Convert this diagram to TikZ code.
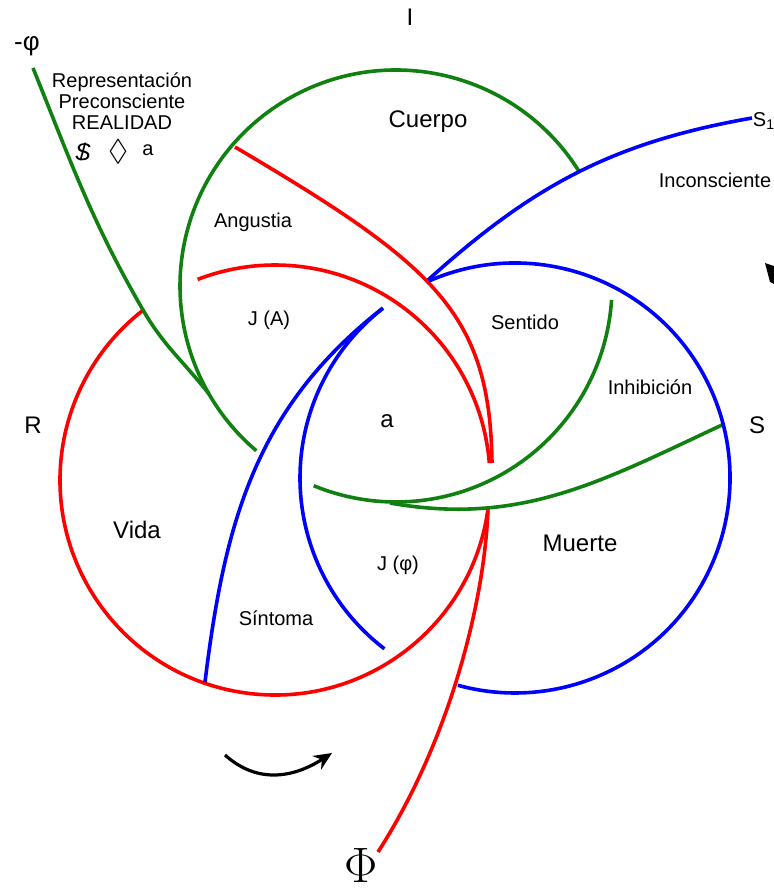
\documentclass[tikz,border=0pt]{standalone}
\usepackage{fontspec}
\setmainfont{Liberation Sans}
\usepackage{amssymb}
\usetikzlibrary{arrows.meta}
\definecolor{ringred}{RGB}{255,0,0}
\definecolor{ringgreen}{RGB}{16,128,16}
\definecolor{ringblue}{RGB}{0,0,255}
\newcommand{\barS}{\ooalign{\itshape S\cr\hidewidth/\hidewidth\cr}}

\begin{document}
\begin{tikzpicture}[x=0.5pt,y=0.5pt,
  ring/.style={line width=1.8pt},
  lab/.style={font=\fontsize{10}{10.5}\selectfont,inner sep=0pt},
  region/.style={font=\fontsize{12}{13}\selectfont,inner sep=0pt},
  letter/.style={font=\fontsize{12}{13}\selectfont,inner sep=0pt}]
 \useasboundingbox (0,0) rectangle (774,-894);
 \coordinate (rc) at (275,-480);
 \coordinate (gc) at (396,-286);
 \coordinate (bc) at (515,-478);
 \draw[ring,ringred] (rc) ++(-8.1:215) arc[start angle=-8.1,end angle=-232.2,radius=215];
 \draw[ring,ringred] (rc) ++(111.1:215) arc[start angle=111.1,end angle=4.5,radius=215];
 \draw[ring,ringred] (235,-147) .. controls (435,-265) and (490,-313) .. (492,-463);
 \draw[ring,ringred] (488,-508) .. controls (485,-600) and (450,-740) .. (378,-852);
 \draw[ring,ringgreen] (gc) ++(31.6:216) arc[start angle=31.6,end angle=229.7,radius=216];
 \draw[ring,ringgreen] (gc) ++(-3.7:216) arc[start angle=-3.7,end angle=-112.4,radius=216];
 \draw[ring,ringgreen] (33,-68) to[out=-68,in=120] (143,-310) to[out=-60,in=128] (209,-394);
 \draw[ring,ringgreen] (722,-425) to[out=205,in=-10] (390,-503);
 \draw[ring,ringblue] (bc) ++(113.6:215) arc[start angle=113.6,end angle=-105.4,radius=215];
 \draw[ring,ringblue] (bc) ++(127.9:215) arc[start angle=127.9,end angle=232.6,radius=215];
 \draw[ring,ringblue] (752,-118) to[out=190,in=42] (428,-280);
 \draw[ring,ringblue] (383,-308) to[out=218,in=83] (205,-682);
 \coordinate (turnfrom) at (225,-755);
 \coordinate (turnto) at (332,-753);
 \draw[line width=1.6pt,-{Stealth[length=9pt,width=8pt]}] (turnfrom) .. controls (255,-782) and (290,-780) .. (turnto);
 \fill (765,-263) -- (774,-266) -- (774,-284) -- (770,-282) -- cycle;
 \node[letter] (ilab) at (410,-17) {I};
 \node[font=\fontsize{13}{15}\selectfont,inner sep=0pt] (mphi) at (27,-46) {-φ};
 \node[lab,align=center] (realidad) at (122,-101) {Representación\\Preconsciente\\REALIDAD};
 \node[font=\fontsize{12}{13}\selectfont,inner sep=0pt] (barS) at (83,-152) {\barS};
 \node[inner sep=0pt,font=\fontsize{15}{15}\selectfont] (lozenge) at (118,-152) {$\Diamond$};
 \node[lab] (aobj) at (148,-150) {a};
 \node[region] (cuerpo) at (428,-122) {Cuerpo};
 \node[lab] (inconsciente) at (715,-180) {Inconsciente};
 \node[lab] (sone) at (764,-121) {S\textsubscript{1}};
 \node[lab] (angustia) at (253,-222) {Angustia};
 \node[lab] (ja) at (269,-320) {J (A)};
 \node[lab] (sentido) at (525,-322) {Sentido};
 \node[lab] (inhibicion) at (650,-387) {Inhibición};
 \node[letter] (rlab) at (33,-425) {R};
 \node[letter] (slab) at (757,-425) {S};
 \node[region] (acentre) at (387,-421) {a};
 \node[region] (vida) at (137,-530) {Vida};
 \node[region] (muerte) at (580,-543) {Muerte};
 \node[lab] (jphi) at (398,-565) {J (φ)};
 \node[lab] (sintoma) at (276,-618) {Síntoma};
 \node[font=\fontsize{28}{30}\selectfont,inner sep=0pt] (bigphi) at (361,-865) {$\Phi$};
\end{tikzpicture}
\end{document}
